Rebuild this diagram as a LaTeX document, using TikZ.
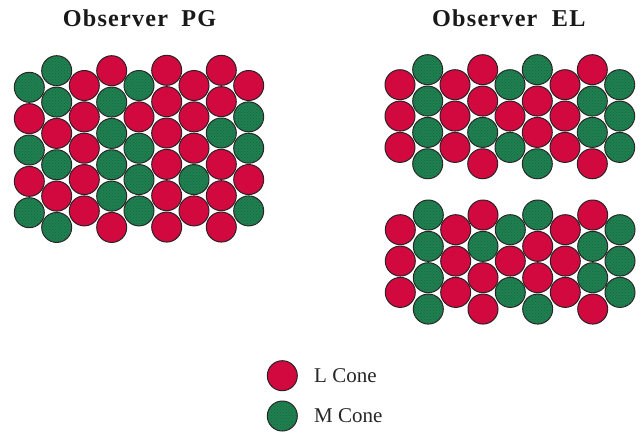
\documentclass[tikz,border=0pt]{standalone}
\usepackage{fontspec}
\setmainfont{Liberation Serif}
\usetikzlibrary{patterns}
\definecolor{cone red}{HTML}{D2093F}
\definecolor{cone green}{HTML}{1F8050}
\definecolor{cone edge}{HTML}{2A2225}
\tikzset{coneR/.style={circle, minimum size=30pt, inner sep=0pt, draw=cone edge, line width=1pt, fill=cone red},
    coneM/.style={coneR, fill=cone green, postaction={pattern=crosshatch dots, pattern color=black!22!cone green}},
    title/.style={anchor=base west, inner sep=0pt, text=black!90, font=\bfseries\fontsize{24.2}{26}\selectfont\addfontfeature{LetterSpace=5}},
    legend/.style={anchor=base west, inner sep=0pt, text=black!85, font=\fontsize{21}{24}\selectfont}}

\begin{document}
\begin{tikzpicture}[x=1pt,y=-1pt]
    \useasboundingbox (0,0) rectangle (643,432);
    % Titles
    \node[title] (titlePG) at (62.7,26.7) {Observer\hspace{.55em}PG};
    \node[title] (titleEL) at (432,26.7) {Observer\hspace{.6em}EL};
    % Observer PG: column / x / y of the top cone / cones from the top
    \foreach \col/\x/\y/\cones in {1/29.3/87.3/{M,R,M,R,M}, 2/56.7/70.7/{M,M,R,M,R,M},
        3/84.3/85.5/{R,R,R,R,R}, 4/111.7/70.7/{R,M,M,M,M,R}, 5/139/85.5/{M,R,M,M,M},
        6/166.7/70.3/{R,R,R,R,R,R}, 7/194/85.5/{R,R,R,M,R}, 8/221.3/70.3/{R,R,M,R,R,R},
        9/248.7/85.5/{R,M,M,R,M}}
        \foreach \c [count=\i from 0] in \cones
            \node[cone\c] (pg-\col-\i) at (\x,\y+31.35*\i) {};
    % Observer EL, upper patch
    \foreach \col/\x/\y/\cones in {1/400/84.7/{R,R,R}, 2/427.7/69.7/{M,M,M,M},
        3/455/84.7/{R,R,R}, 4/482.7/69.7/{R,R,M,R}, 5/510/84.7/{M,R,M},
        6/537.3/69.7/{M,R,R,M}, 7/565/84.7/{R,R,R}, 8/592.3/69.7/{R,M,M,R},
        9/619.7/84.7/{M,M,M}}
        \foreach \c [count=\i from 0] in \cones
            \node[cone\c] (elA-\col-\i) at (\x,\y+31.35*\i) {};
    % Observer EL, lower patch
    \foreach \col/\x/\y/\cones in {1/400.3/229.7/{R,R,R}, 2/428.3/215/{M,M,M,M},
        3/455.7/229.7/{R,R,R}, 4/483/215/{R,M,R,R}, 5/510.3/229.7/{M,R,M},
        6/537.7/215/{M,R,R,M}, 7/565.3/229.7/{R,R,R}, 8/592.7/215/{R,M,M,R},
        9/620/229.7/{M,M,M}}
        \foreach \c [count=\i from 0] in \cones
            \node[cone\c] (elB-\col-\i) at (\x,\y+31.35*\i) {};
    % Legend
    \node[coneR] (keyL) at (282.3,375.7) {};
    \node[coneM] (keyM) at (282.3,416) {};
    \node[legend] (labelL) at (314,382) {L Cone};
    \node[legend] (labelM) at (314,422.7) {M Cone};
\end{tikzpicture}
\end{document}
